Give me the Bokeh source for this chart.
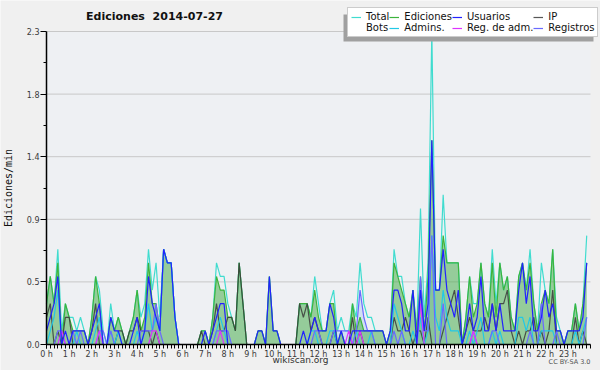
from bokeh.plotting import figure
from bokeh.models import (Legend, LegendItem, FixedTicker, Label, BoxAnnotation,
                          ColumnDataSource, Range1d)
from bokeh.embed import file_html
from bokeh.resources import INLINE

# time of each 10-minute bin, in minutes after midnight
minutes = list(range(0, 1440, 10))

# counts per 10-minute bin (one row per hour)
total_10 = [
    3, 5, 3, 7, 1, 3,   2, 2, 1, 2, 1, 0,   2, 5, 4, 1, 0, 3,   1, 2, 1, 0, 1, 2,
    4, 2, 3, 7, 4, 6,   2, 7, 6, 6, 2, 0,   0, 0, 0, 0, 0, 1,   1, 0, 2, 6, 5, 5,
    3, 2, 1, 6, 3, 0,   0, 0, 1, 1, 0, 5,   1, 1, 0, 0, 0, 0,   0, 3, 3, 3, 2, 5,
    3, 1, 1, 3, 4, 1,   2, 1, 1, 3, 2, 6,   3, 2, 2, 1, 1, 1,   0, 1, 7, 5, 5, 3,
    2, 4, 1, 10, 2, 6,  23, 4, 4, 11, 6, 6, 6, 6, 0, 2, 5, 3,   3, 6, 3, 2, 7, 3,
    6, 4, 5, 2, 1, 5,   6, 4, 7, 3, 1, 6,   4, 3, 7, 2, 1, 0,   1, 1, 3, 1, 3, 8,
]
edits_10 = [
    3, 5, 3, 6, 0, 3,   2, 1, 1, 1, 1, 0,   2, 5, 3, 0, 0, 2,   1, 2, 1, 0, 1, 2,
    4, 1, 2, 6, 3, 3,   1, 7, 6, 6, 2, 0,   0, 0, 0, 0, 0, 1,   1, 0, 2, 5, 4, 4,
    2, 2, 1, 6, 3, 0,   0, 0, 1, 1, 0, 5,   1, 1, 0, 0, 0, 0,   0, 3, 3, 3, 2, 4,
    2, 1, 1, 3, 3, 0,   1, 0, 0, 3, 1, 2,   1, 1, 1, 1, 1, 1,   0, 1, 6, 5, 4, 3,
    2, 4, 1, 5, 1, 5,   15, 4, 4, 8, 6, 6,  6, 6, 0, 2, 5, 2,   3, 6, 3, 2, 6, 2,
    6, 4, 5, 2, 1, 5,   6, 4, 6, 3, 1, 3,   4, 3, 7, 1, 1, 0,   1, 1, 3, 1, 3, 6,
]
users_10 = [
    1, 2, 3, 5, 0, 1,   0, 1, 1, 1, 1, 0,   1, 2, 3, 0, 0, 2,   1, 1, 0, 0, 0, 1,
    2, 0, 1, 5, 3, 2,   1, 7, 6, 6, 2, 0,   0, 0, 0, 0, 0, 0,   1, 0, 1, 2, 3, 3,
    0, 0, 0, 0, 0, 0,   0, 0, 1, 1, 0, 5,   1, 1, 0, 0, 0, 0,   0, 0, 1, 0, 1, 2,
    1, 1, 1, 3, 2, 0,   1, 0, 0, 1, 1, 1,   1, 1, 1, 1, 1, 1,   0, 1, 4, 4, 3, 1,
    1, 4, 0, 4, 1, 3,   15, 4, 4, 7, 4, 3,  2, 4, 0, 1, 3, 1,   2, 5, 1, 1, 3, 1,
    3, 1, 1, 1, 1, 4,   6, 3, 5, 1, 1, 2,   4, 2, 3, 1, 1, 0,   1, 1, 1, 1, 2, 6,
]
ip_10 = [
    2, 3, 0, 1, 0, 2,   2, 0, 0, 0, 0, 0,   1, 3, 0, 0, 0, 0,   0, 1, 1, 0, 1, 1,
    2, 1, 1, 1, 0, 1,   0, 0, 0, 0, 0, 0,   0, 0, 0, 0, 0, 1,   0, 0, 1, 3, 1, 1,
    2, 2, 1, 6, 3, 0,   0, 0, 0, 0, 0, 0,   0, 0, 0, 0, 0, 0,   0, 3, 2, 3, 1, 2,
    1, 0, 0, 0, 1, 0,   0, 0, 0, 2, 0, 1,   0, 0, 0, 0, 0, 0,   0, 0, 2, 1, 1, 2,
    1, 0, 1, 1, 0, 2,   0, 0, 0, 1, 2, 3,   4, 2, 0, 1, 2, 1,   1, 1, 2, 1, 3, 1,
    3, 3, 4, 1, 0, 1,   0, 1, 1, 2, 0, 1,   0, 1, 4, 0, 0, 0,   0, 0, 2, 0, 1, 0,
]
admins_10 = [
    0, 1, 2, 4, 0, 0,   0, 0, 1, 0, 0, 0,   0, 1, 2, 0, 0, 1,   0, 1, 0, 0, 0, 0,
    1, 0, 1, 3, 1, 2,   1, 7, 6, 6, 2, 0,   0, 0, 0, 0, 0, 0,   0, 0, 0, 1, 2, 1,
    0, 0, 0, 0, 0, 0,   0, 0, 0, 0, 0, 0,   0, 0, 0, 0, 0, 0,   0, 0, 0, 0, 1, 1,
    0, 0, 0, 1, 1, 0,   0, 0, 0, 0, 1, 0,   0, 0, 1, 0, 0, 0,   0, 0, 3, 2, 1, 0,
    0, 1, 0, 2, 0, 1,   8, 2, 1, 4, 2, 1,   1, 1, 0, 0, 1, 0,   1, 2, 0, 0, 1, 0,
    1, 0, 0, 0, 0, 2,   2, 1, 2, 0, 0, 1,   1, 1, 1, 0, 0, 0,   0, 0, 1, 0, 1, 2,
]
logs_10 = [
    0, 0, 0, 1, 1, 0,   0, 1, 0, 1, 0, 0,   0, 0, 1, 1, 0, 1,   0, 0, 0, 0, 0, 0,
    0, 1, 1, 1, 1, 3,   1, 0, 0, 0, 0, 0,   0, 0, 0, 0, 0, 0,   0, 0, 0, 1, 1, 1,
    1, 0, 0, 0, 0, 0,   0, 0, 0, 0, 0, 0,   0, 0, 0, 0, 0, 0,   0, 0, 0, 0, 0, 1,
    1, 0, 0, 0, 1, 1,   1, 1, 1, 0, 1, 4,   2, 1, 1, 0, 0, 0,   0, 0, 1, 0, 1, 0,
    0, 0, 0, 5, 1, 1,   8, 0, 0, 3, 0, 0,   0, 0, 0, 0, 0, 1,   0, 0, 0, 0, 1, 1,
    0, 0, 0, 0, 0, 0,   0, 0, 1, 0, 0, 3,   0, 0, 0, 1, 0, 0,   0, 0, 0, 0, 0, 2,
]
adminlogs_10 = [
    0, 0, 0, 0, 1, 0,   0, 0, 0, 0, 0, 0,   0, 0, 1, 0, 0, 0,   0, 0, 0, 0, 0, 0,
    0, 0, 0, 0, 1, 1,   0, 0, 0, 0, 0, 0,   0, 0, 0, 0, 0, 0,   0, 0, 0, 0, 1, 0,
    0, 0, 0, 0, 0, 0,   0, 0, 0, 0, 0, 0,   0, 0, 0, 0, 0, 0,   0, 0, 0, 0, 0, 0,
    0, 0, 0, 0, 0, 0,   0, 0, 1, 0, 0, 1,   0, 0, 0, 0, 0, 0,   0, 0, 0, 0, 0, 0,
    0, 0, 0, 3, 0, 0,   0, 0, 0, 0, 0, 0,   0, 0, 0, 0, 0, 1,   0, 0, 0, 0, 0, 0,
    0, 0, 0, 0, 0, 0,   0, 0, 0, 0, 0, 0,   0, 0, 0, 0, 0, 0,   0, 0, 0, 0, 0, 0,
]

y_ticks = [0, 0.46, 0.92, 1.38, 1.84, 2.3]
y_minor = [0.23, 0.69, 1.15, 1.61, 2.07]
y_tick_labels = ["0.0", "0.5", "0.9", "1.4", "1.8", "2.3"]
x_ticks = list(range(24))
x_tick_labels = [f"{h} h" for h in x_ticks]
X_MAX, Y_MAX = 24, 2.3

# ---- geometry: the frame covers the whole canvas, the data box sits inside it
W, H = 600, 370
PL, PR, PT, PB = 46, 590, 31, 344          # data box in canvas pixels
kx = (PR - PL) / X_MAX
ky = (PB - PT) / Y_MAX

src = ColumnDataSource(dict(
    x=[m / 60 for m in minutes],
    total=[v / 10 for v in total_10],
    edits=[v / 10 for v in edits_10],
    users=[v / 10 for v in users_10],
    ip=[v / 10 for v in ip_10],
    admins=[v / 10 for v in admins_10],
    logs=[v / 10 for v in logs_10],
    adminlogs=[v / 10 for v in adminlogs_10],
    zero=[0.0] * len(minutes),
))

p = figure(width=W, height=H, output_backend="svg", toolbar_location=None,
           x_range=Range1d(-PL / kx, X_MAX + (W - PR) / kx),
           y_range=Range1d(-(H - PB) / ky, Y_MAX + PT / ky),
           min_border=0, min_border_left=0, min_border_right=0,
           min_border_top=0, min_border_bottom=0)
p.title = None
p.border_fill_color = "#f0f0f0"
p.background_fill_color = "#f0f0f0"
p.outline_line_color = None
p.xgrid.visible = False
p.ygrid.visible = False

# plot-area background
p.add_layout(BoxAnnotation(left=0, right=X_MAX, bottom=0, top=Y_MAX,
                           fill_color="#eef0f3", fill_alpha=1, line_color=None,
                           level="underlay"))
# horizontal grid lines at the y ticks
p.segment(x0=[0] * len(y_ticks), x1=[X_MAX] * len(y_ticks), y0=y_ticks, y1=y_ticks,
          line_color="#c8c8c8", line_width=1)

p.yaxis.ticker = FixedTicker(ticks=y_ticks, minor_ticks=y_minor)
p.yaxis.major_label_overrides = dict(zip(y_ticks, y_tick_labels))
p.xaxis.ticker = FixedTicker(ticks=x_ticks, minor_ticks=[m / 60 for m in range(0, 1450, 10)])
p.xaxis.major_label_overrides = dict(zip(x_ticks, x_tick_labels))
p.xaxis.fixed_location = 0
p.yaxis.fixed_location = 0
p.xaxis.bounds = (0, X_MAX)
p.yaxis.bounds = (0, Y_MAX)
for ax in (p.xaxis, p.yaxis):
    ax.axis_line_color = "black"
    ax.axis_line_width = 1.5
    ax.major_tick_line_color = "black"
    ax.minor_tick_line_color = "black"
    ax.major_tick_in = 0
    ax.minor_tick_in = 0
    ax.major_label_text_font = "DejaVu Sans"
    ax.major_label_text_font_size = "8px"
    ax.major_label_text_color = "#3a3a3a"
p.yaxis.major_tick_out = 6
p.yaxis.minor_tick_out = 3
p.xaxis.major_tick_out = 4
p.xaxis.minor_tick_out = 4
p.xaxis.major_label_standoff = 1
p.yaxis.major_label_standoff = 1
p.yaxis.axis_label = "Ediciones/min"
p.yaxis.axis_label_text_font = "DejaVu Sans Mono"
p.yaxis.axis_label_text_font_size = "10px"
p.yaxis.axis_label_text_font_style = "normal"
p.yaxis.axis_label_text_color = "#111111"
p.yaxis.axis_label_standoff = 10

# areas
p.varea(x="x", y1="zero", y2="logs", source=src, fill_color="#9cc4f0", fill_alpha=0.35)
p.varea(x="x", y1="zero", y2="edits", source=src, fill_color="#4caf50", fill_alpha=0.55)

# lines
lw = 1.2
r_total = p.line("x", "total", source=src, line_color="#40dccf", line_width=lw)
r_edits = p.line("x", "edits", source=src, line_color="#3cb43c", line_width=lw)
r_ip = p.line("x", "ip", source=src, line_color="#3a3a3a", line_width=lw, line_alpha=0.85)
r_admins = p.line("x", "admins", source=src, line_color="#22c8e6", line_width=lw)
r_logs = p.line("x", "logs", source=src, line_color="#6a6aff", line_width=lw)
r_adminlogs = p.line("x", "adminlogs", source=src, line_color="#dd33ff", line_width=lw)
r_users = p.line("x", "users", source=src, line_color="#2222ff", line_width=lw)
r_bots = p.line(x=[], y=[], line_color="#ffa020", line_width=lw)

# legend shadow (screen units, origin at bottom-left of the canvas)
p.add_layout(BoxAnnotation(left=343, right=593, bottom=H - 41, top=H - 14,
                           left_units="screen", right_units="screen",
                           bottom_units="screen", top_units="screen",
                           fill_color="#a0a0a0", fill_alpha=1, line_color=None))

legend = Legend(items=[
    LegendItem(label="Total", renderers=[r_total]),
    LegendItem(label="Ediciones", renderers=[r_edits]),
    LegendItem(label="Usuarios", renderers=[r_users]),
    LegendItem(label="IP", renderers=[r_ip]),
    LegendItem(label="Bots", renderers=[r_bots]),
    LegendItem(label="Admins.", renderers=[r_admins]),
    LegendItem(label="Reg. de adm.", renderers=[r_adminlogs]),
    LegendItem(label="Registros", renderers=[r_logs]),
], orientation="horizontal", ncols=4)
legend.location = (347, H - 37)
legend.label_text_font = "DejaVu Sans"
legend.label_text_font_size = "10px"
legend.label_text_color = "#111111"
legend.glyph_width = 10
legend.glyph_height = 10
legend.label_height = 10
legend.label_standoff = 5
legend.spacing = 0
legend.padding = 3
legend.margin = 0
legend.border_line_color = "#999999"
legend.background_fill_color = "white"
legend.background_fill_alpha = 1
p.add_layout(legend, "center")

p.add_layout(Label(x=154, y=H - 22, x_units="screen", y_units="screen",
                   text="Ediciones \u00a02014-07-27", text_align="center",
                   text_font="DejaVu Sans", text_font_style="bold",
                   text_font_size="11px", text_color="#111111"))
p.add_layout(Label(x=300, y=H - 364, x_units="screen", y_units="screen",
                   text="wikiscan.org", text_align="center",
                   text_font="DejaVu Sans", text_font_size="9px", text_color="#333333"))
p.add_layout(Label(x=590, y=H - 365, x_units="screen", y_units="screen",
                   text="CC BY-SA 3.0", text_align="right",
                   text_font="DejaVu Sans", text_font_size="6.5px", text_color="#555555"))

open("out.html", "w").write(file_html(p, INLINE))
